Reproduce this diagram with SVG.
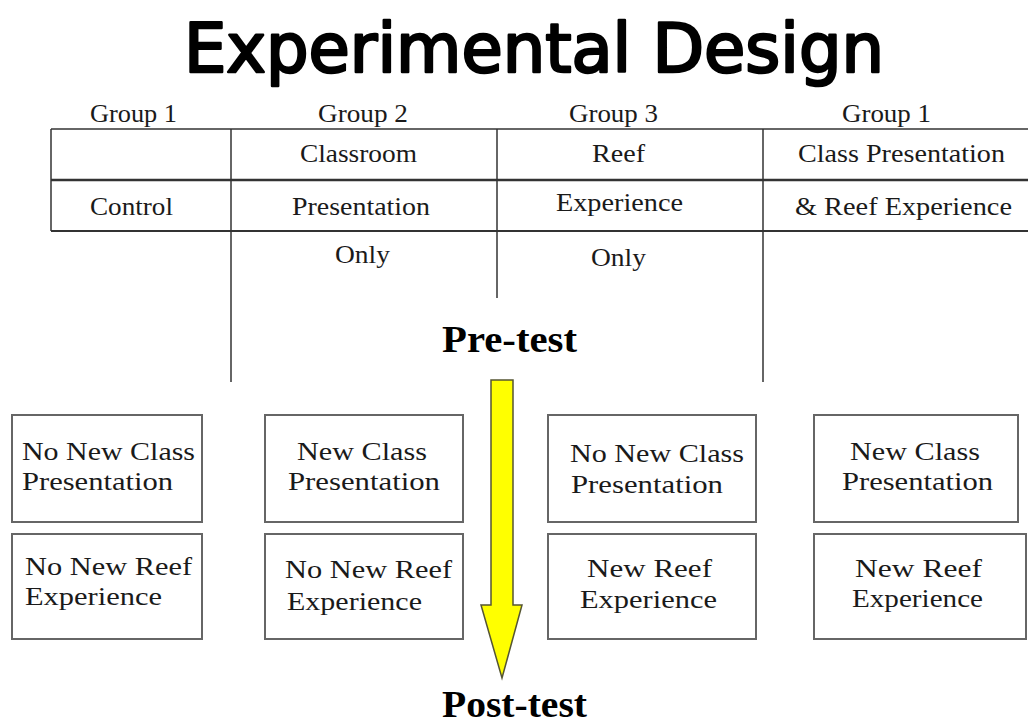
<svg xmlns="http://www.w3.org/2000/svg" width="1028" height="723" viewBox="0 0 1028 723">
<style>
.title{font-family:"DejaVu Sans","Liberation Sans",sans-serif;font-weight:normal;font-size:68px;fill:#000;stroke:#000;stroke-width:2.6;stroke-linejoin:round}
.t{font-family:"Liberation Serif","Times New Roman",serif;font-size:25px;fill:#1a1a1a}
.b{font-family:"Liberation Serif","Times New Roman",serif;font-size:26px;fill:#1a1a1a}
.big{font-family:"Liberation Serif","Times New Roman",serif;font-size:38px;font-weight:bold;fill:#000}
.line{stroke:#333;stroke-width:1.5;fill:none}
.box{fill:#fff;stroke:#666;stroke-width:2}
</style>
<rect width="1028" height="723" fill="#fff"/>
<text class="title" x="184" y="72" textLength="700" lengthAdjust="spacingAndGlyphs">Experimental Design</text>

<g id="table">
<line class="line" x1="51" y1="129" x2="1028" y2="129"/>
<line class="line" x1="51" y1="180" x2="1028" y2="180" style="stroke-width:2.5"/>
<line class="line" x1="51" y1="231" x2="1028" y2="231" style="stroke-width:2"/>
<line class="line" x1="51" y1="129" x2="51" y2="231"/>
<line class="line" x1="231" y1="129" x2="231" y2="382"/>
<line class="line" x1="497" y1="129" x2="497" y2="298"/>
<line class="line" x1="763" y1="129" x2="763" y2="382"/>
<text class="t" x="90" y="122" textLength="87" lengthAdjust="spacingAndGlyphs">Group 1</text>
<text class="t" x="318" y="122" textLength="90" lengthAdjust="spacingAndGlyphs">Group 2</text>
<text class="t" x="569" y="122" textLength="89" lengthAdjust="spacingAndGlyphs">Group 3</text>
<text class="t" x="842" y="122" textLength="89" lengthAdjust="spacingAndGlyphs">Group 1</text>
<text class="t" x="300" y="162" textLength="117" lengthAdjust="spacingAndGlyphs">Classroom</text>
<text class="t" x="592" y="162" textLength="53" lengthAdjust="spacingAndGlyphs">Reef</text>
<text class="t" x="798" y="162" textLength="207" lengthAdjust="spacingAndGlyphs">Class Presentation</text>
<text class="t" x="90" y="215" textLength="83" lengthAdjust="spacingAndGlyphs">Control</text>
<text class="t" x="292" y="215" textLength="138" lengthAdjust="spacingAndGlyphs">Presentation</text>
<text class="t" x="556" y="211" textLength="127" lengthAdjust="spacingAndGlyphs">Experience</text>
<text class="t" x="795" y="215" textLength="217" lengthAdjust="spacingAndGlyphs">&amp; Reef Experience</text>
<text class="t" x="335" y="263" textLength="55" lengthAdjust="spacingAndGlyphs">Only</text>
<text class="t" x="591" y="266" textLength="55" lengthAdjust="spacingAndGlyphs">Only</text>
</g>

<g id="pretest">
<text class="big" x="442" y="352" textLength="135" lengthAdjust="spacingAndGlyphs">Pre-test</text>
</g>
<g id="posttest">
<text class="big" x="442" y="717" textLength="145" lengthAdjust="spacingAndGlyphs">Post-test</text>
</g>

<g id="connectors">
<polygon points="491,380 513,380 513,605 522,605 502,678 481,605 491,605" fill="#ffff00" stroke="#555533" stroke-width="1.5" stroke-linejoin="miter"/>
</g>

<g id="g1-class">
<rect class="box" x="12" y="415" width="190" height="107"/>
<text class="b" x="22" y="460" textLength="173" lengthAdjust="spacingAndGlyphs">No New Class</text>
<text class="b" x="22" y="490" textLength="151" lengthAdjust="spacingAndGlyphs">Presentation</text>
</g>
<g id="g1-reef">
<rect class="box" x="12" y="534" width="190" height="105"/>
<text class="b" x="25" y="575" textLength="167" lengthAdjust="spacingAndGlyphs">No New Reef</text>
<text class="b" x="25" y="605" textLength="137" lengthAdjust="spacingAndGlyphs">Experience</text>
</g>
<g id="g2-class">
<rect class="box" x="265" y="415" width="198" height="107"/>
<text class="b" x="297" y="460" textLength="130" lengthAdjust="spacingAndGlyphs">New Class</text>
<text class="b" x="288" y="490" textLength="152" lengthAdjust="spacingAndGlyphs">Presentation</text>
</g>
<g id="g2-reef">
<rect class="box" x="265" y="534" width="198" height="105"/>
<text class="b" x="285" y="578" textLength="167" lengthAdjust="spacingAndGlyphs">No New Reef</text>
<text class="b" x="287" y="610" textLength="135" lengthAdjust="spacingAndGlyphs">Experience</text>
</g>
<g id="g3-class">
<rect class="box" x="548" y="415" width="208" height="107"/>
<text class="b" x="570" y="462" textLength="174" lengthAdjust="spacingAndGlyphs">No New Class</text>
<text class="b" x="571" y="493" textLength="152" lengthAdjust="spacingAndGlyphs">Presentation</text>
</g>
<g id="g3-reef">
<rect class="box" x="548" y="534" width="208" height="105"/>
<text class="b" x="587" y="577" textLength="125" lengthAdjust="spacingAndGlyphs">New Reef</text>
<text class="b" x="580" y="608" textLength="137" lengthAdjust="spacingAndGlyphs">Experience</text>
</g>
<g id="g4-class">
<rect class="box" x="814" y="415" width="204" height="107"/>
<text class="b" x="850" y="460" textLength="130" lengthAdjust="spacingAndGlyphs">New Class</text>
<text class="b" x="842" y="490" textLength="151" lengthAdjust="spacingAndGlyphs">Presentation</text>
</g>
<g id="g4-reef">
<rect class="box" x="814" y="534" width="212" height="105"/>
<text class="b" x="855" y="577" textLength="127" lengthAdjust="spacingAndGlyphs">New Reef</text>
<text class="b" x="852" y="607" textLength="131" lengthAdjust="spacingAndGlyphs">Experience</text>
</g>
</svg>
